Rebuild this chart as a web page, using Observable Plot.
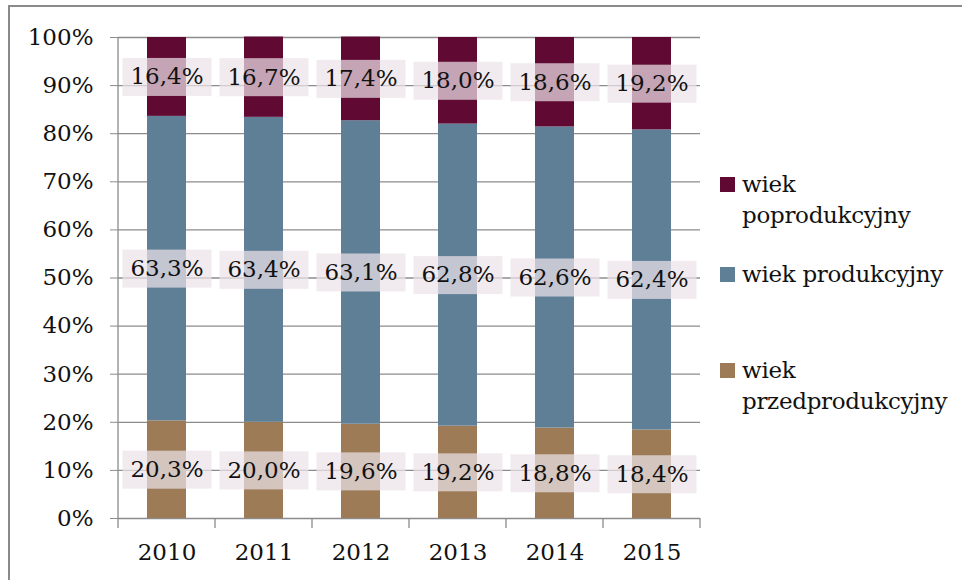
<!DOCTYPE html>
<html>
<head>
<meta charset="utf-8">
<script src="https://cdn.jsdelivr.net/npm/d3@7"></script>
<script src="https://cdn.jsdelivr.net/npm/@observablehq/plot@0.6"></script>
<style>
  html, body { margin: 0; padding: 0; background: #fff; }
  #wrap { position: relative; width: 962px; height: 580px; overflow: hidden; font-family: "DejaVu Serif", serif; }
  #frame { position: absolute; left: 8px; top: 5px; width: 1000px; height: 700px; border-left: 2px solid #8a8a8a; border-top: 2px solid #8a8a8a; box-sizing: border-box; }
  #chart { position: absolute; left: 0; top: 0; }
  #legend { position: absolute; left: 720px; top: 0; font-size: 23px; color: #111; }
  .item { position: absolute; left: 0; white-space: nowrap; }
  .sw { position: absolute; left: 0; width: 15px; height: 15px; }
  .lab { position: absolute; left: 22px; line-height: 31px; letter-spacing: -0.3px; }
</style>
</head>
<body>
<div id="wrap">
  <div id="frame"></div>
  <div id="chart"></div>
  <div id="legend"></div>
</div>
<script>
const years = ["2010", "2011", "2012", "2013", "2014", "2015"];
const seriesNames = ["wiek przedprodukcyjny", "wiek produkcyjny", "wiek poprodukcyjny"];
const przedprodukcyjny = [20.3, 20.0, 19.6, 19.2, 18.8, 18.4];
const produkcyjny = [63.3, 63.4, 63.1, 62.8, 62.6, 62.4];
const poprodukcyjny = [16.4, 16.7, 17.4, 18.0, 18.6, 19.2];
const colors = ["#9c7b56", "#5f7f97", "#600a33"];
const yTicks = [0, 10, 20, 30, 40, 50, 60, 70, 80, 90, 100];
const legendLines = [["wiek", "poprodukcyjny"], ["wiek produkcyjny"], ["wiek", "przedprodukcyjny"]];

const fmt = v => v.toFixed(1).replace(".", ",") + "%";
const seriesValues = [przedprodukcyjny, produkcyjny, poprodukcyjny];
const data = years.flatMap((year, i) =>
  seriesNames.map((s, j) => ({year, series: s, value: seriesValues[j][i]})));

const grey = "#8c8c8c";
const ns = "http://www.w3.org/2000/svg";

function boxRender(index, scales, values, dimensions, context, next) {
  const g = next(index, scales, values, dimensions, context);
  const boxes = document.createElementNS(ns, "g");
  const bw = 89, bh = 38;
  for (const i of index) {
    const r = document.createElementNS(ns, "rect");
    r.setAttribute("x", values.x[i] - bw / 2);
    r.setAttribute("y", values.y[i] - bh / 2);
    r.setAttribute("width", bw);
    r.setAttribute("height", bh);
    r.setAttribute("fill", "rgb(236,226,231)");
    r.setAttribute("fill-opacity", "0.72");
    boxes.appendChild(r);
  }
  g.insertBefore(boxes, g.firstChild);
  return g;
}

function axesLines(index, scales, values, dimensions) {
  const {width, height, marginLeft, marginRight, marginTop, marginBottom} = dimensions;
  const g = d3.create("svg:g").attr("stroke", grey).attr("stroke-width", 1.3);
  const x0 = marginLeft, x1 = width - marginRight, yb = height - marginBottom;
  g.append("line").attr("x1", x0).attr("x2", x0).attr("y1", marginTop).attr("y2", yb);
  const step = (x1 - x0) / years.length;
  for (let k = 0; k <= years.length; k++) {
    g.append("line").attr("x1", x0 + k * step).attr("x2", x0 + k * step).attr("y1", yb).attr("y2", yb + 10);
  }
  return g.node();
}

const chart = Plot.plot({
  width: 962,
  height: 580,
  marginLeft: 118,
  marginRight: 262,
  marginTop: 37,
  marginBottom: 62,
  style: {fontFamily: "DejaVu Serif, serif", fontSize: "23px", color: "#111", background: "transparent"},
  x: {domain: years, paddingInner: 0.6, paddingOuter: 0.3, axis: null},
  y: {domain: [0, 100], axis: null},
  color: {domain: seriesNames, range: colors},
  marks: [
    Plot.ruleY(yTicks, {stroke: grey, strokeWidth: 1.3}),
    Plot.barY(data, {x: "year", y: "value", z: "series", fill: "series"}),
    Plot.text(data, Plot.stackY({
      x: "year", y: "value", z: "series",
      text: d => fmt(d.value), fill: "#111", fontSize: 23,
      render: boxRender
    })),
    axesLines,
    Plot.axisY({ticks: yTicks, tickFormat: d => d + "%", tickSize: 8, tickPadding: 17, stroke: grey, fontSize: 23, label: null}),
    Plot.axisX({tickSize: 0, tickPadding: 25, fontSize: 23, label: null})
  ]
});
document.getElementById("chart").appendChild(chart);

const legend = document.getElementById("legend");
const legendTops = [169, 259, 355];
const order = [2, 1, 0];
order.forEach((si, k) => {
  const item = document.createElement("div");
  item.className = "item";
  item.style.top = legendTops[k] + "px";
  const sw = document.createElement("div");
  sw.className = "sw";
  sw.style.background = colors[si];
  sw.style.top = "8px";
  const lab = document.createElement("div");
  lab.className = "lab";
  lab.innerHTML = legendLines[k].join("<br>");
  item.appendChild(sw);
  item.appendChild(lab);
  legend.appendChild(item);
});
</script>
</body>
</html>
